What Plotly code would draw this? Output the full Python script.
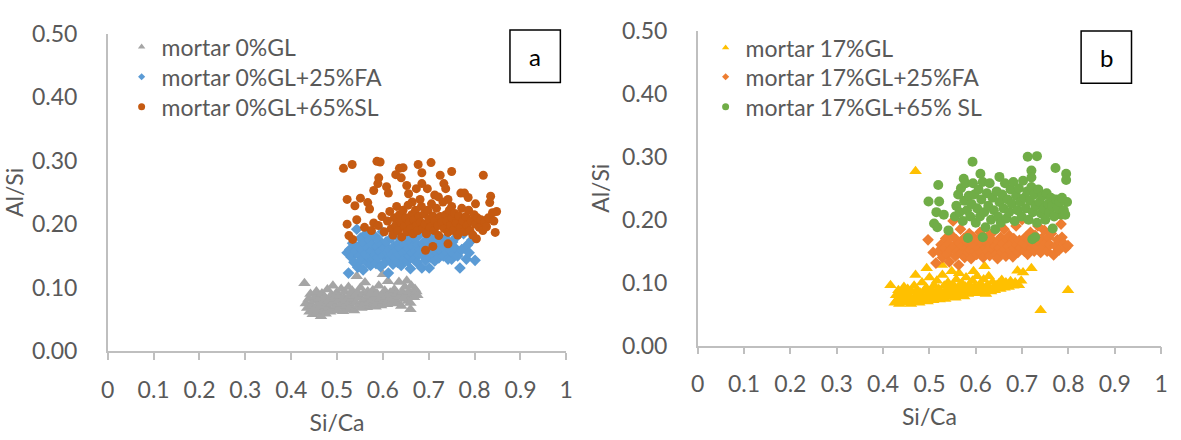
import plotly.graph_objects as go

# ---------------- Panel a data ----------------
gl0_x = [0.429,0.432,0.435,0.438,0.440,0.442,0.445,0.447,0.449,0.451,0.453,0.455,0.457,0.459,0.461,0.463,0.465,0.467,0.469,0.471,0.473,0.475,0.477,0.479,0.481,0.483,0.485,0.487,0.489,0.491,0.493,0.495,0.497,0.499,0.501,0.503,0.505,0.507,0.509,0.511,0.513,0.515,0.517,0.519,0.521,0.523,0.525,0.527,0.529,0.531,0.533,0.535,0.537,0.539,0.541,0.543,0.545,0.547,0.549,0.551,0.553,0.555,0.557,0.559,0.561,0.563,0.565,0.567,0.569,0.571,0.573,0.575,0.578,0.580,0.582,0.584,0.587,0.589,0.591,0.594,0.596,0.598,0.600,0.602,0.604,0.607,0.609,0.611,0.613,0.616,0.618,0.620,0.623,0.625,0.627,0.630,0.632,0.635,0.637,0.640,0.642,0.645,0.648,0.650,0.652,0.655,0.657,0.660,0.660,0.662,0.665,0.668,0.670,0.673,0.675]
gl0_y = [0.107,0.075,0.068,0.082,0.062,0.090,0.072,0.058,0.079,0.066,0.086,0.094,0.061,0.074,0.083,0.069,0.055,0.091,0.077,0.064,0.085,0.059,0.072,0.097,0.068,0.080,0.062,0.088,0.075,0.103,0.066,0.083,0.071,0.092,0.064,0.079,0.087,0.070,0.098,0.075,0.063,0.084,0.093,0.072,0.081,0.066,0.101,0.077,0.089,0.070,0.095,0.082,0.064,0.087,0.076,0.118,0.092,0.071,0.085,0.100,0.068,0.079,0.090,0.074,0.108,0.083,0.069,0.094,0.077,0.087,0.072,0.080,0.096,0.075,0.085,0.070,0.091,0.078,0.103,0.083,0.072,0.089,0.121,0.079,0.095,0.086,0.074,0.110,0.081,0.092,0.077,0.088,0.084,0.097,0.080,0.090,0.075,0.109,0.086,0.071,0.093,0.082,0.101,0.088,0.111,0.079,0.094,0.076,0.066,0.103,0.090,0.085,0.098,0.094,0.088]

fa0_x = [0.522,0.525,0.528,0.531,0.534,0.537,0.540,0.543,0.545,0.547,0.549,0.551,0.553,0.555,0.557,0.559,0.561,0.563,0.565,0.567,0.569,0.571,0.573,0.575,0.577,0.579,0.581,0.583,0.585,0.587,0.589,0.591,0.593,0.595,0.597,0.599,0.601,0.603,0.605,0.607,0.609,0.612,0.614,0.616,0.618,0.620,0.622,0.624,0.626,0.628,0.630,0.632,0.634,0.636,0.638,0.640,0.642,0.644,0.646,0.648,0.650,0.652,0.654,0.656,0.658,0.660,0.662,0.664,0.666,0.668,0.670,0.672,0.674,0.676,0.678,0.680,0.682,0.685,0.687,0.689,0.691,0.693,0.695,0.697,0.699,0.701,0.703,0.705,0.707,0.709,0.711,0.713,0.716,0.718,0.720,0.722,0.725,0.727,0.730,0.732,0.735,0.737,0.740,0.742,0.745,0.748,0.750,0.752,0.755,0.758,0.760,0.763,0.768,0.772,0.776,0.782,0.784,0.788,0.794,0.801]
fa0_y = [0.155,0.123,0.160,0.148,0.170,0.140,0.158,0.192,0.132,0.165,0.150,0.178,0.143,0.160,0.128,0.170,0.153,0.185,0.140,0.163,0.148,0.175,0.135,0.158,0.168,0.145,0.182,0.152,0.138,0.165,0.147,0.175,0.157,0.133,0.168,0.188,0.150,0.162,0.140,0.172,0.155,0.123,0.160,0.145,0.178,0.152,0.137,0.165,0.148,0.183,0.158,0.140,0.170,0.152,0.163,0.135,0.175,0.155,0.145,0.168,0.158,0.180,0.142,0.162,0.150,0.130,0.172,0.155,0.165,0.145,0.178,0.158,0.140,0.168,0.152,0.183,0.160,0.131,0.170,0.150,0.163,0.143,0.175,0.157,0.165,0.131,0.148,0.180,0.160,0.152,0.170,0.142,0.163,0.155,0.175,0.147,0.165,0.158,0.170,0.150,0.162,0.178,0.155,0.145,0.168,0.158,0.145,0.172,0.152,0.162,0.180,0.150,0.131,0.160,0.185,0.145,0.167,0.155,0.175,0.143]

sl0_x = [0.514,0.533,0.587,0.594,0.636,0.644,0.677,0.685,0.705,0.725,0.750,0.819,
         0.589,0.591,0.580,0.608,0.612,0.628,0.640,0.652,0.656,0.664,0.681,0.673,0.685,0.697,0.713,0.721,0.733,0.737,0.742,0.770,0.778,0.786,0.802,0.750,
         0.522,0.539,0.551,0.567,0.571,0.543,0.580,0.522,0.526,0.534,
         0.693,0.709,0.742,0.804,0.845,0.848,0.839,0.835,0.833,0.828,
         0.560,0.575,0.590,0.598,0.603,0.610,0.615,0.618,0.622,0.625,0.628,0.630,0.633,0.636,0.639,0.641,0.644,0.647,0.650,0.652,0.655,0.658,0.660,0.663,0.666,0.668,0.671,0.674,0.676,0.679,0.682,0.684,0.687,0.690,0.692,0.695,0.698,0.700,0.703,0.706,0.709,0.712,0.714,0.717,0.720,0.722,0.725,0.728,0.731,0.734,0.737,0.740,0.742,0.745,0.748,0.751,0.754,0.757,0.760,0.763,0.766,0.769,0.772,0.775,0.778,0.781,0.784,0.787,0.790,0.793,0.796,0.799,0.802,0.806,0.810,0.814,0.818,0.822,0.826,0.830,0.842]
sl0_y = [0.288,0.294,0.299,0.298,0.288,0.289,0.294,0.281,0.297,0.277,0.283,0.277,
         0.264,0.273,0.253,0.259,0.249,0.278,0.273,0.261,0.248,0.235,0.239,0.256,0.264,0.256,0.246,0.243,0.264,0.256,0.239,0.249,0.249,0.242,0.232,0.228,
         0.239,0.229,0.241,0.234,0.224,0.207,0.202,0.200,0.182,0.176,
         0.159,0.165,0.169,0.177,0.187,0.220,0.218,0.244,0.234,0.207,
         0.195,0.190,0.198,0.212,0.188,0.205,0.220,0.193,0.183,0.210,0.198,0.228,0.190,0.215,0.203,0.180,0.222,0.196,0.210,0.188,0.230,0.203,0.193,0.215,0.185,0.207,0.222,0.198,0.190,0.212,0.203,0.228,0.193,0.216,0.200,0.185,0.222,0.208,0.195,0.232,0.213,0.190,0.205,0.225,0.198,0.182,0.212,0.203,0.235,0.193,0.215,0.205,0.187,0.222,0.198,0.210,0.190,0.217,0.202,0.183,0.213,0.195,0.225,0.205,0.188,0.212,0.198,0.222,0.190,0.205,0.183,0.215,0.200,0.210,0.195,0.207,0.190,0.203,0.196,0.210,0.205]

# ---------------- Panel b data ----------------
gl17_x = [0.416,0.470,0.740,0.799,0.720,0.690,0.702,0.619,0.595,0.494,0.470,0.527,
          0.425,0.428,0.430,0.433,0.435,0.438,0.440,0.442,0.445,0.447,0.449,0.451,0.453,0.456,0.458,0.460,0.462,0.465,0.467,0.469,0.471,0.473,0.476,0.478,0.480,0.482,0.484,0.487,0.489,0.491,0.493,0.496,0.498,0.500,0.502,0.504,0.506,0.508,0.510,0.512,0.514,0.516,0.518,0.520,0.522,0.524,0.526,0.528,0.530,0.532,0.534,0.536,0.538,0.540,0.542,0.544,0.546,0.548,0.550,0.552,0.554,0.556,0.558,0.560,0.562,0.564,0.566,0.568,0.570,0.572,0.575,0.577,0.579,0.581,0.583,0.586,0.588,0.590,0.593,0.596,0.598,0.600,0.603,0.605,0.607,0.610,0.612,0.615,0.617,0.620,0.622,0.625,0.628,0.630,0.633,0.636,0.638,0.641,0.644,0.647,0.650,0.653,0.656,0.659,0.662,0.665,0.668,0.671,0.675,0.678,0.681,0.685,0.688,0.693,0.698]
gl17_y = [0.096,0.277,0.056,0.088,0.123,0.119,0.116,0.126,0.118,0.123,0.112,0.128,
          0.068,0.080,0.072,0.088,0.066,0.078,0.085,0.070,0.093,0.075,0.068,0.082,0.090,0.072,0.078,0.066,0.086,0.074,0.095,0.070,0.080,0.088,0.073,0.068,0.084,0.078,0.100,0.071,0.087,0.076,0.092,0.070,0.082,0.108,0.075,0.089,0.079,0.072,0.096,0.084,0.076,0.103,0.080,0.090,0.073,0.086,0.078,0.112,0.083,0.095,0.074,0.088,0.080,0.100,0.077,0.092,0.084,0.118,0.079,0.096,0.087,0.076,0.105,0.083,0.093,0.115,0.080,0.089,0.099,0.085,0.078,0.094,0.108,0.086,0.082,0.097,0.090,0.084,0.103,0.088,0.094,0.083,0.110,0.091,0.086,0.098,0.084,0.093,0.105,0.088,0.082,0.096,0.110,0.090,0.086,0.101,0.092,0.088,0.096,0.092,0.099,0.090,0.104,0.095,0.092,0.100,0.096,0.093,0.102,0.097,0.095,0.100,0.097,0.096,0.103]

fa17_x = [0.497,0.508,0.514,0.520,0.525,0.528,0.532,0.535,0.538,0.541,0.543,0.546,0.548,0.551,0.553,0.556,0.558,0.560,0.563,0.565,0.567,0.569,0.572,0.574,0.576,0.579,0.581,0.583,0.586,0.588,0.590,0.593,0.595,0.597,0.600,0.602,0.604,0.607,0.609,0.611,0.614,0.616,0.618,0.621,0.623,0.625,0.628,0.630,0.632,0.635,0.637,0.640,0.642,0.644,0.647,0.649,0.651,0.654,0.656,0.658,0.661,0.663,0.665,0.668,0.670,0.672,0.675,0.677,0.680,0.682,0.684,0.687,0.689,0.691,0.694,0.696,0.700,0.702,0.705,0.707,0.710,0.712,0.715,0.718,0.720,0.723,0.726,0.728,0.731,0.734,0.737,0.740,0.742,0.745,0.748,0.751,0.754,0.757,0.760,0.763,0.768,0.772,0.776,0.780,0.784,0.786,0.790,0.794,0.799]
fa17_y = [0.168,0.148,0.131,0.150,0.160,0.140,0.155,0.170,0.145,0.162,0.133,0.152,0.175,0.198,0.158,0.142,0.168,0.150,0.128,0.163,0.185,0.147,0.158,0.170,0.140,0.155,0.165,0.148,0.178,0.152,0.138,0.162,0.172,0.150,0.158,0.145,0.168,0.155,0.180,0.148,0.162,0.140,0.170,0.155,0.165,0.150,0.175,0.143,0.160,0.168,0.152,0.182,0.158,0.145,0.138,0.165,0.155,0.172,0.148,0.162,0.185,0.152,0.142,0.168,0.158,0.175,0.150,0.162,0.141,0.170,0.155,0.190,0.160,0.148,0.167,0.155,0.200,0.162,0.150,0.172,0.158,0.145,0.168,0.180,0.155,0.162,0.150,0.175,0.158,0.190,0.165,0.148,0.170,0.158,0.183,0.163,0.150,0.172,0.160,0.178,0.144,0.158,0.168,0.152,0.193,0.172,0.162,0.155,0.159]

sl17_x = [0.498,0.519,0.521,0.515,0.510,0.517,0.541,0.531,0.593,0.712,0.732,0.772,0.795,0.795,0.797,0.784,0.766,0.722,0.728,0.615,0.583,0.651,0.610,0.574,0.720,0.720,
          0.555,0.558,0.562,0.565,0.568,0.572,0.575,0.578,0.581,0.585,0.588,0.591,0.594,0.597,0.600,0.603,0.606,0.609,0.612,0.615,0.618,0.621,0.624,0.627,0.630,0.633,0.636,0.639,0.642,0.645,0.648,0.651,0.654,0.657,0.660,0.663,0.666,0.669,0.672,0.675,0.678,0.681,0.684,0.687,0.690,0.693,0.696,0.699,0.702,0.705,0.708,0.711,0.714,0.717,0.720,0.723,0.726,0.729,0.732,0.735,0.738,0.741,0.744,0.747,0.750,0.753,0.756,0.759,0.762,0.765,0.769,0.773,0.777,0.781,0.786,0.790,0.793]
sl17_y = [0.229,0.255,0.229,0.212,0.194,0.188,0.183,0.208,0.292,0.300,0.301,0.282,0.273,0.263,0.228,0.208,0.186,0.169,0.172,0.172,0.171,0.268,0.273,0.265,0.278,0.267,
          0.205,0.222,0.240,0.212,0.250,0.198,0.230,0.258,0.215,0.238,0.205,0.225,0.258,0.240,0.195,0.218,0.248,0.205,0.232,0.260,0.212,0.188,0.242,0.222,0.258,0.200,0.235,0.215,0.185,0.245,0.205,0.228,0.195,0.240,0.218,0.258,0.202,0.232,0.212,0.248,0.225,0.260,0.198,0.238,0.215,0.250,0.228,0.205,0.262,0.235,0.218,0.245,0.200,0.230,0.252,0.212,0.240,0.222,0.195,0.248,0.228,0.210,0.238,0.218,0.200,0.242,0.225,0.212,0.235,0.222,0.205,0.232,0.218,0.228,0.235,0.215,0.208]

x_ticks = [0, 0.1, 0.2, 0.3, 0.4, 0.5, 0.6, 0.7, 0.8, 0.9, 1]
y_ticks = [0.0, 0.1, 0.2, 0.3, 0.4, 0.5]

FONT = "Lato"
TXT = "#595959"
AX = "#BFBFBF"
W, H = 1181, 440

fig = go.Figure()
legend_layouts = {}

def add(x, y, name, color, symbol, size, leg_size, xa, ya, legend, lx, ly):
    fig.add_trace(go.Scatter(x=x, y=y, mode="markers", name=name, legendgroup=name,
                             showlegend=False,
                             marker=dict(color=color, symbol=symbol, size=size, line=dict(width=0)),
                             xaxis=xa, yaxis=ya))
    # legend entry with a small marker, one legend box per row
    fig.add_trace(go.Scatter(x=[None], y=[None], mode="markers", name=name, legendgroup=name,
                             showlegend=True, legend=legend,
                             marker=dict(color=color, symbol=symbol, size=leg_size, line=dict(width=0)),
                             xaxis=xa, yaxis=ya))
    legend_layouts[legend] = dict(x=lx / W, y=1 - ly / H, xanchor="left", yanchor="middle",
                                  font=dict(family=FONT, size=23, color=TXT),
                                  bgcolor="rgba(0,0,0,0)", itemclick=False, itemdoubleclick=False)

add(gl0_x, gl0_y, "mortar 0%GL", "#A5A5A5", "triangle-up", 11, 6.5, "x", "y", "legend", 116, 34)
add(fa0_x, fa0_y, "mortar 0%GL+25%FA", "#5B9BD5", "diamond", 9, 5.5, "x", "y", "legend2", 116, 66)
add(sl0_x, sl0_y, "mortar 0%GL+65%SL", "#C55A11", "circle", 9, 7, "x", "y", "legend3", 116, 98)
add(gl17_x, gl17_y, "mortar 17%GL", "#FFC000", "triangle-up", 11, 6.5, "x2", "y2", "legend4", 707, 35)
add(fa17_x, fa17_y, "mortar 17%GL+25%FA", "#ED7D31", "diamond", 9, 5.5, "x2", "y2", "legend5", 707, 66)
add(sl17_x, sl17_y, "mortar 17%GL+65% SL", "#70AD47", "circle", 10, 7, "x2", "y2", "legend6", 707, 98)

def xaxis(domain, anchor):
    return dict(domain=domain, anchor=anchor, range=[0, 1], tickvals=x_ticks,
                ticktext=[("%g" % v) for v in x_ticks],
                showgrid=False, zeroline=False, showline=True, linecolor=AX, linewidth=1.5,
                ticks="outside", ticklen=7, tickwidth=1.5, tickcolor=AX,
                tickfont=dict(family=FONT, size=23, color=TXT), ticklabelstandoff=10,
                title=dict(text="Si/Ca", font=dict(family=FONT, size=23, color=TXT), standoff=13))

def yaxis(domain, anchor):
    return dict(domain=domain, anchor=anchor, range=[0, 0.5], tickvals=y_ticks,
                ticktext=["%.2f" % v for v in y_ticks],
                showgrid=False, zeroline=False, showline=True, linecolor=AX, linewidth=1.5,
                ticks="", tickfont=dict(family=FONT, size=23, color=TXT), ticklabelstandoff=24,
                title=dict(text="Al/Si", font=dict(family=FONT, size=23, color=TXT), standoff=6))

fig.update_layout(
    width=W, height=H, margin=dict(l=0, r=0, t=0, b=0),
    paper_bgcolor="white", plot_bgcolor="white",
    xaxis=xaxis([102 / W, 566 / W], "y"),
    yaxis=yaxis([1 - 359 / H, 1 - 20 / H], "x"),
    xaxis2=xaxis([699 / W, 1168 / W], "y2"),
    yaxis2=yaxis([1 - 353 / H, 1 - 17 / H], "x2"),
    showlegend=True,
    **legend_layouts,
)

# panel label boxes
for (x0, x1, y0, y1, lab) in [(509, 560, 16, 72, "a"), (1087, 1138, 17, 73, "b")]:
    fig.add_shape(type="rect", xref="paper", yref="paper",
                  x0=x0 / W, x1=x1 / W, y0=1 - y1 / H, y1=1 - y0 / H,
                  line=dict(color="black", width=1.5), fillcolor="white")
    fig.add_annotation(xref="paper", yref="paper", x=(x0 + x1) / 2 / W, y=1 - (y0 + y1) / 2 / H,
                       text=lab, showarrow=False, font=dict(family=FONT, size=24, color="black"),
                       xanchor="center", yanchor="middle")

fig.write_html("out.html")
